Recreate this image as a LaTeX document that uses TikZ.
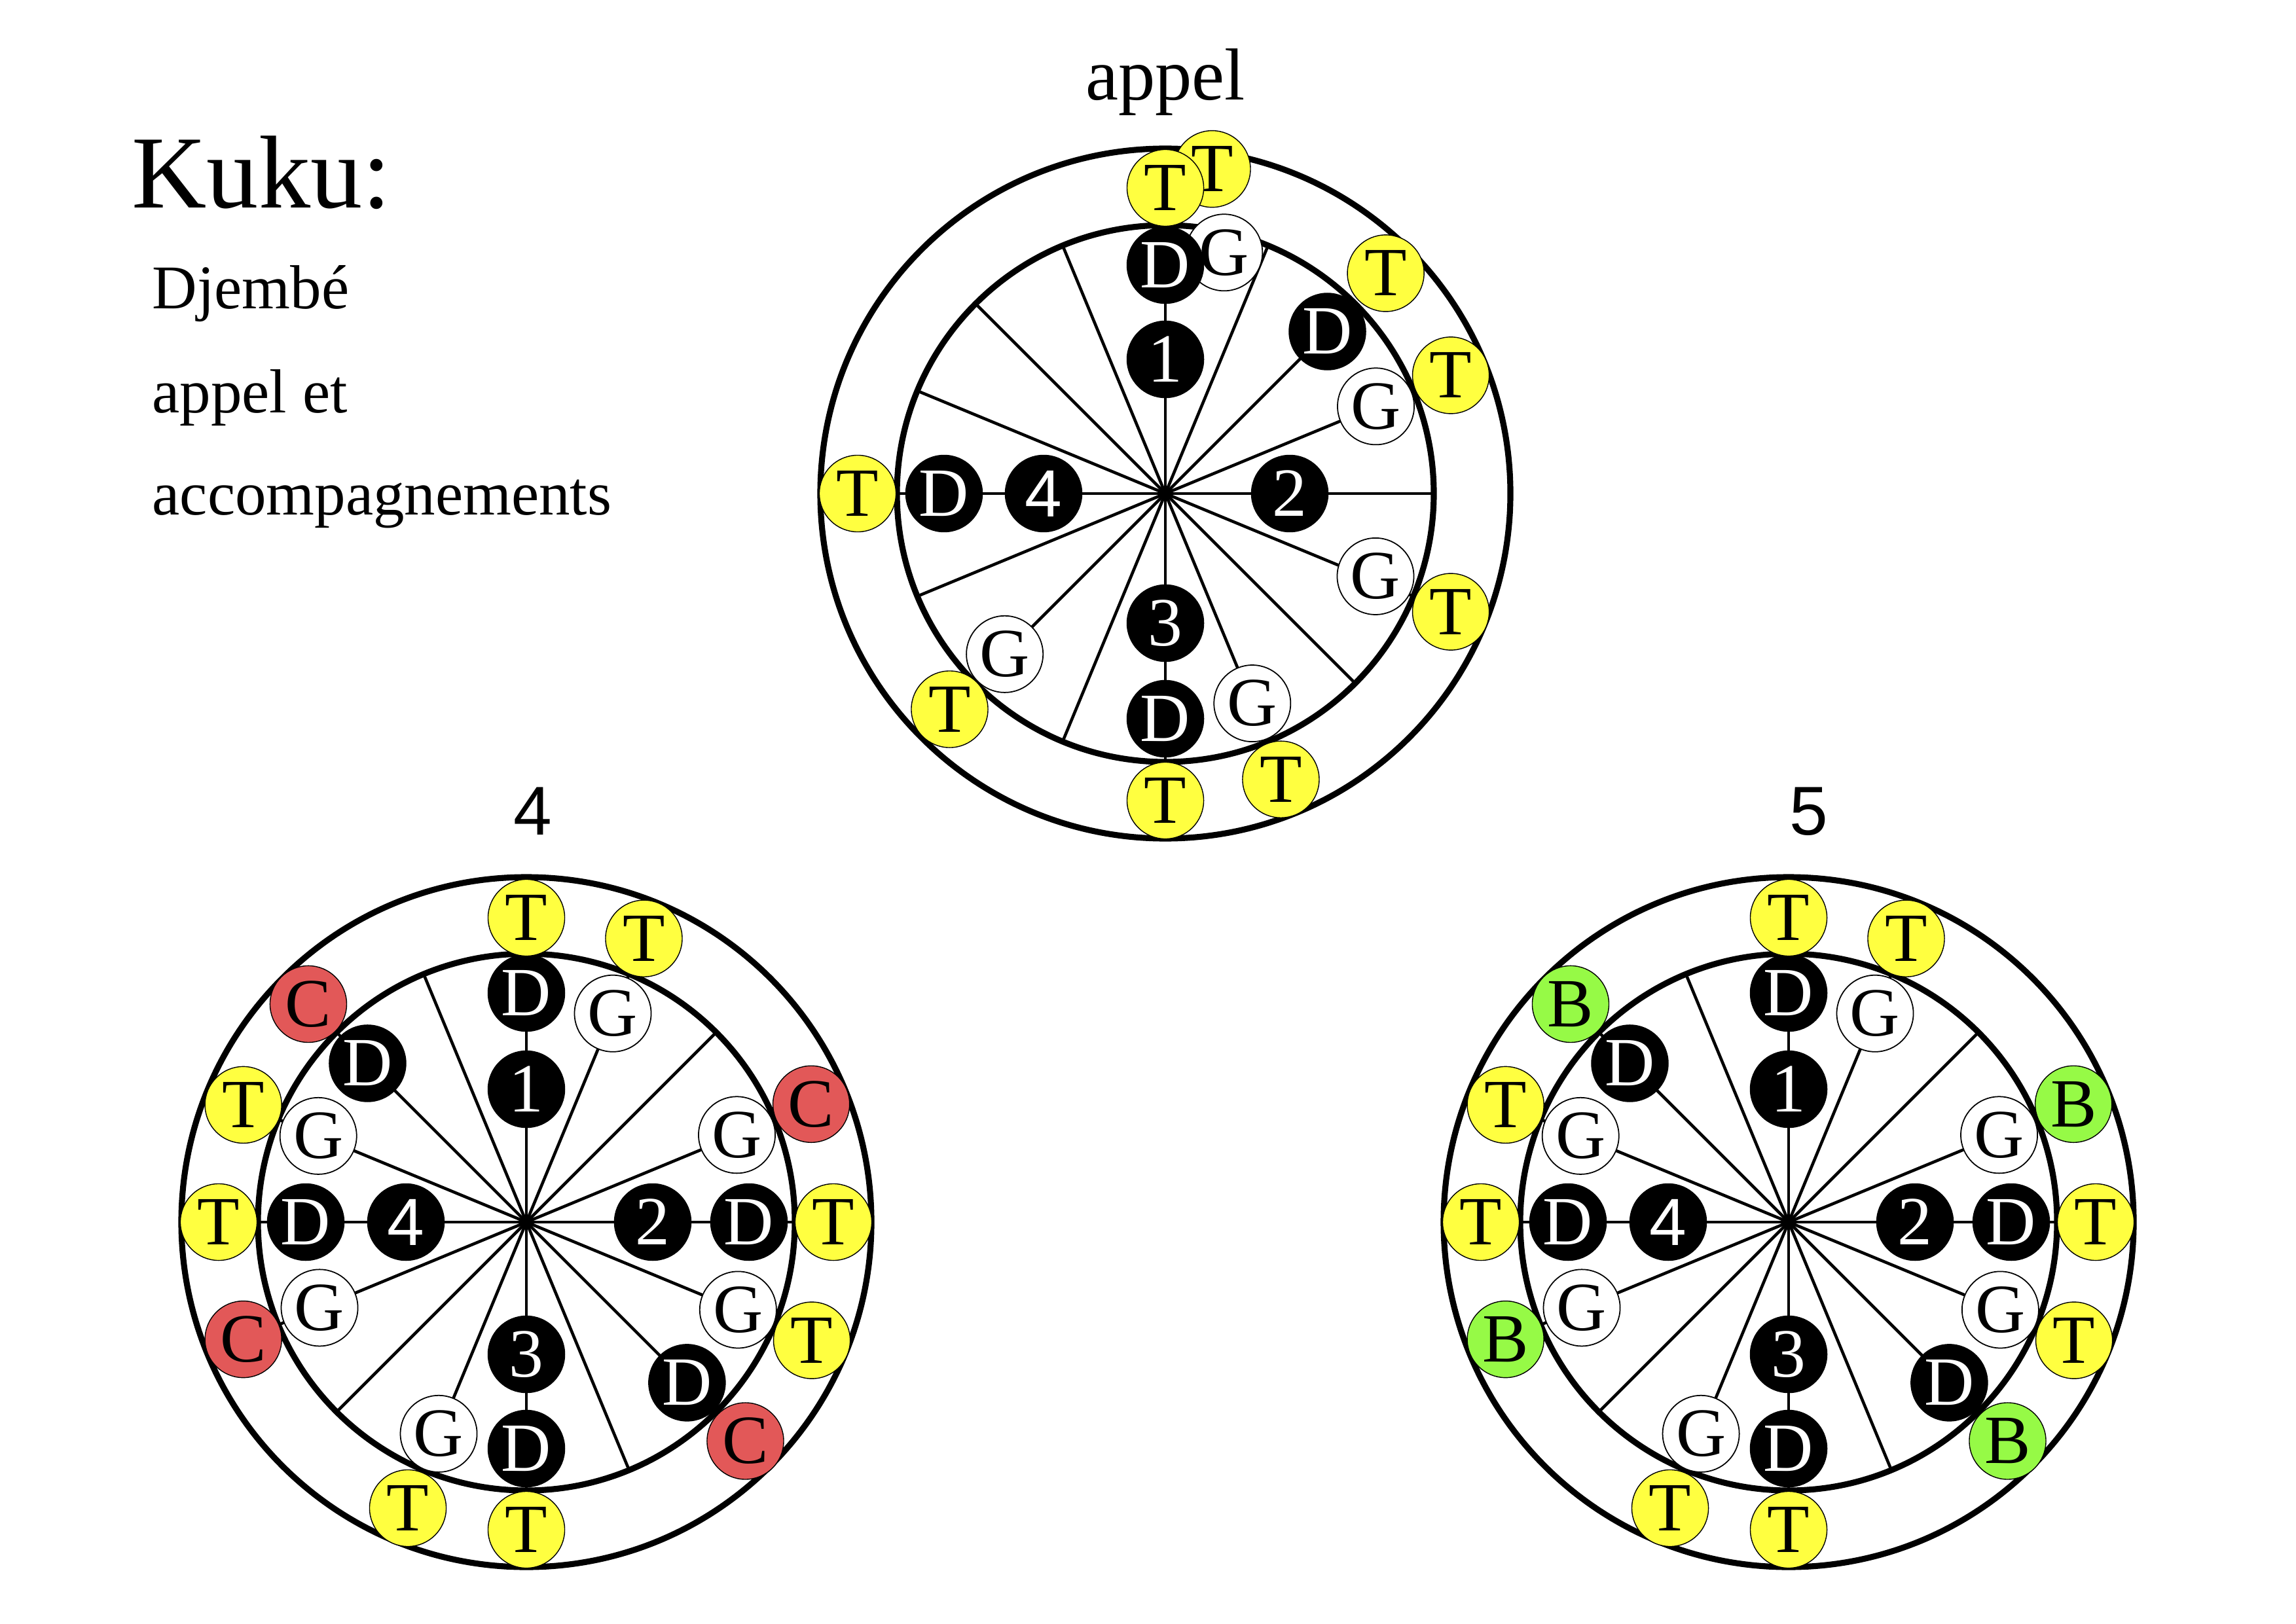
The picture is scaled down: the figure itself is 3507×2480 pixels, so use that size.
\documentclass[tikz,border=0pt]{standalone}
\usepackage{fontspec}
\setmainfont{Liberation Serif}
\newfontfamily\sansf{Liberation Sans}
\usetikzlibrary{calc}
\definecolor{tyel}{RGB}{255,255,64}
\definecolor{cred}{RGB}{226,88,88}
\definecolor{bgrn}{RGB}{150,250,70}
\tikzset{
  ring/.style={line width=2.6pt},
  spoke/.style={line width=1.3pt},
  beat/.style={circle, minimum size=1.17cm, inner sep=0pt, font=\fontsize{30}{30}\selectfont},
  dbeat/.style={beat, fill=black, draw=black, text=white},
  nbeat/.style={beat, fill=black, draw=black, text=white},
  gbeat/.style={beat, fill=white, draw=black, line width=0.5pt},
  tbeat/.style={beat, fill=tyel, draw=black, line width=0.4pt},
  cbeat/.style={beat, fill=cred, draw=black, line width=0.4pt},
  bbeat/.style={beat, fill=bgrn, draw=black, line width=0.4pt},
  lbl/.style={inner sep=0pt, anchor=base west},
}
\newcommand\drumframe[1]{%
  \foreach \k in {0,...,15}{\draw[spoke] (#1) -- ($(#1)+({\k*22.5}:410)$);}
  \draw[ring] (#1) circle[radius=527];
  \draw[ring] (#1) circle[radius=410];
}
\newcommand\drumbottom[3]{%
  \drumframe{#1}
  \node[nbeat] (#1-n1) at ($(#1)+(90:203)$) {1};
  \node[nbeat] (#1-n2) at ($(#1)+(0:193)$) {2};
  \node[nbeat] (#1-n3) at ($(#1)+(270:202)$) {3};
  \node[nbeat, font=\sansf\fontsize{29}{29}\selectfont] (#1-n4) at ($(#1)+(180:184)$) {4};
  \foreach \a/\r/\i in {90/350/1,135/343/2,180/337/3,270/346/4,315/347/5,0/340/6}
    {\node[dbeat] (#1-d\i) at ($(#1)+(\a:\r)$) {D};}
  \foreach \a/\r/\i in {67.5/345/1,157.5/344/2,202.5/342/3,247.5/350/4,337.5/350/5,22.5/348/6}
    {\node[gbeat] (#1-g\i) at ($(#1)+(\a:\r)$) {G};}
  \foreach \a/\r/\i in {90/465/1,67.5/469/2,157.5/468/3,180/470/4,247.5/473/5,270/470/6,337.5/472/7,0/469/8}
    {\node[tbeat] (#1-t\i) at ($(#1)+(\a:\r)$) {T};}
  \foreach \a/\r/\i in {135/471/1,202.5/468/2,315/473/3,22.5/471/4}
    {\node[#2] (#1-x\i) at ($(#1)+(\a:\r)$) {#3};}
}
\begin{document}
\begin{tikzpicture}[x=0.01cm, y=0.01cm]
\useasboundingbox (0,0) rectangle (3507,2480);
\fill[white] (0,0) rectangle (3507,2480);

% left text
\node[lbl, font=\fontsize{45}{45}\selectfont] (title) at (201,2162) {Kuku:};
\node[lbl, font=\fontsize{27}{27}\selectfont] (l1) at (232,2008) {Djembé};
\node[lbl, font=\fontsize{27}{27}\selectfont] (l2) at (232,1849) {appel et};
\node[lbl, font=\fontsize{27}{27}\selectfont] (l3) at (232,1693) {accompagnements};

% headings
\node[inner sep=0pt, anchor=base, font=\fontsize{32}{32}\selectfont] (hA) at (1780,2327) {appel};
\node[inner sep=0pt, anchor=base, font=\sansf\fontsize{30}{30}\selectfont] (hB) at (814,1205) {4};
\node[inner sep=0pt, anchor=base, font=\sansf\fontsize{30}{30}\selectfont] (hC) at (2763,1205) {5};

% centres
\coordinate (A) at (1780,1726);
\coordinate (B) at (804,613);
\coordinate (C) at (2732,613);

% ---- appel ----
\drumframe{A}
\node[nbeat] (A-n1) at ($(A)+(90:205)$) {1};
\node[nbeat] (A-n2) at ($(A)+(0:190)$) {2};
\node[nbeat] (A-n3) at ($(A)+(270:198)$) {3};
\node[nbeat, font=\sansf\fontsize{29}{29}\selectfont] (A-n4) at ($(A)+(180:186)$) {4};
\node[gbeat] (A-g1) at ($(A)+(76.3:379)$) {G};
\node[dbeat] (A-d1) at ($(A)+(90:349)$) {D};
\node[dbeat] (A-d2) at ($(A)+(45:350)$) {D};
\node[gbeat] (A-g2) at ($(A)+(22.5:348)$) {G};
\node[gbeat] (A-g3) at ($(A)+(-21.5:345)$) {G};
\node[gbeat] (A-g4) at ($(A)+(-67.5:347)$) {G};
\node[dbeat] (A-d3) at ($(A)+(270:344)$) {D};
\node[gbeat] (A-g5) at ($(A)+(225:347)$) {G};
\node[dbeat] (A-d4) at ($(A)+(180:338)$) {D};
\node[tbeat] (A-t2) at ($(A)+(81.8:501)$) {T};
\node[tbeat] (A-t1) at ($(A)+(90:467)$) {T};
\node[tbeat] (A-t3) at ($(A)+(45:476)$) {T};
\node[tbeat] (A-t4) at ($(A)+(22.5:472)$) {T};
\node[tbeat] (A-t5) at ($(A)+(-22.5:472)$) {T};
\node[tbeat] (A-t6) at ($(A)+(-68:471)$) {T};
\node[tbeat] (A-t7) at ($(A)+(270:469)$) {T};
\node[tbeat] (A-t8) at ($(A)+(225:466)$) {T};
\node[tbeat] (A-t9) at ($(A)+(180:470)$) {T};

% ---- 4 and 5 ----
\drumbottom{B}{cbeat}{C}
\drumbottom{C}{bbeat}{B}
\end{tikzpicture}
\end{document}
